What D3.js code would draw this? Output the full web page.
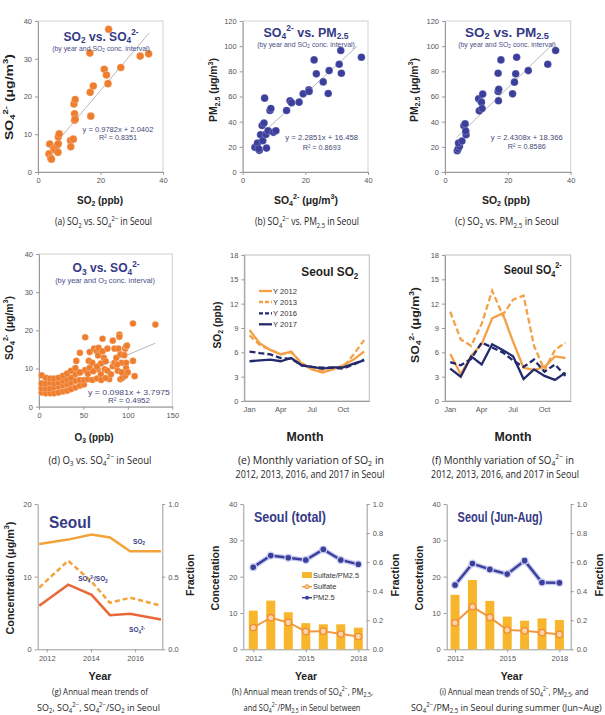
<!DOCTYPE html>
<html><head><meta charset="utf-8">
<script src="https://cdn.jsdelivr.net/npm/d3@7"></script>
<style>
body{margin:0;background:#fff;}
svg{display:block;}
</style></head><body>
<svg id="c" width="605" height="715"></svg>
<script>
// ================= DATA =================
// (a) SO2 (ppb) vs SO4 2- (ug/m3)
const aSO2 = [3.75,3.5,4.1,4.3,5.0,5.4,6.1,6.4,6.5,6.5,6.8,10.4,10.5,11.3,11.5,11.7,11.7,11.9,11.9,16.6,16.7,16.9,17.7,21.2,21.9,22.4,22.6,26.5,32.7,35.4];
const aSO4 = [7.4,4.8,3.7,3.4,6.2,5.9,7.0,5.2,7.5,9.3,10.1,8.3,6.7,8.7,18.0,15.4,13.7,19.2,14.0,31.5,21.1,14.8,22.8,27.2,25.7,23.4,37.8,27.7,30.7,31.3];
// (b) SO4 2- vs PM2.5
const bSO4 = [3.9,4.7,5.3,5.1,5.7,6.2,6.4,6.8,7.0,7.4,7.6,8.1,8.7,9.0,9.8,10.6,14.0,15.1,15.6,18.0,19.3,21.1,21.2,22.8,23.5,25.7,27.3,27.6,30.8,31.3,31.5,37.9];
const bPM  = [19.6,23.0,17.2,18.5,29.6,37.0,24.8,38.9,58.7,29.9,19.0,32.8,48.9,50.5,31.5,32.8,48.9,56.6,55.0,55.5,62.1,65.3,64.0,89.1,78.0,71.6,62.4,80.6,85.6,96.5,78.5,91.2];
// (c) SO2 vs PM2.5
const cSO2 = [3.9,4.2,4.6,4.3,5.4,6.0,6.4,6.7,6.6,10.7,10.9,11.6,11.8,12.0,16.9,16.9,17.1,17.0,17.8,21.5,22.1,22.5,22.8,26.5,32.7,35.2];
const cPM  = [16.9,18.5,20.4,23.0,24.6,36.7,38.3,29.6,32.5,58.2,48.6,55.5,50.5,61.9,78.5,64.0,65.8,56.6,89.1,62.1,71.4,78.0,91.2,80.6,85.6,96.5];
// (d) O3 vs SO4 2-
const dO3 = [3,7.6,12.5,17,22,27,31.6,36,41,46,50.6,
  3,7.6,12.5,17,22,27,31.6,36,41,46,50.6,55,60,65,
  3,7.6,12.5,17,22,27,31.6,36,41,46,52,57,
  3,7.6,12.5,17,22,27,31.6,36,41,46,
  42,46,52,56,57,60,62,65,66.5,67,66,69.6,71.5,71.5,69.6,73,74,75,77,77,79,81,83,83,85,85,87,88.6,89.4,90.5,90.5,91.6,91.6,93,94,97,97,98,99,98,98,105.7,105.7,107.6,131,
  55,61,65,70,75,88,93,100,96];
const dSO4 = [3.7,3.5,3.5,3.5,3.7,4.0,4.2,4.6,5.0,5.5,5.8,
  4.8,4.8,4.8,5.1,5.3,5.6,5.9,6.3,6.8,7.0,7.0,7.2,7.0,7.4,
  6.1,6.1,6.3,6.1,6.3,6.8,7.2,7.6,8.5,8.9,9.6,10.2,
  8.2,7.6,7.4,7.4,7.6,8.1,8.7,9.4,10.1,9.0,
  12.0,14.1,18.2,12.0,14.3,11.5,15.2,14.5,13.4,15.4,9.8,11.3,17.8,14.5,8.5,12.8,9.8,11.9,15.2,9.4,7.2,8.5,17.3,10.6,15.2,11.5,12.8,9.4,15.2,18.9,18.3,13.7,7.2,11.5,7.6,8.1,15.2,15.8,16.0,10.2,11.5,21.8,12.0,8.0,21.5,
  8.6,9.3,10.5,7.0,7.5,11.0,9.0,9.0,13.5];
// (e) monthly SO2 (ppb)
const months = ["Jan","Feb","Mar","Apr","May","Jun","Jul","Aug","Sep","Oct","Nov","Dec"];
const monthTicks = ["Jan","Apr","Jul","Oct"];
const eSO2_2012 = [8.75,7.1,6.3,5.75,6.1,4.6,3.9,3.5,3.9,4.4,5.1,6.1];
const eSO2_2013 = [8.1,6.9,6.3,5.75,6.0,4.7,3.9,3.8,4.0,4.2,5.75,7.5];
const eSO2_2016 = [6.1,5.9,5.75,5.3,5.2,4.4,4.2,4.1,4.1,4.0,4.5,5.1];
const eSO2_2017 = [4.9,5.0,5.1,4.9,5.3,4.4,4.2,4.0,4.15,4.15,4.6,5.0];
// (f) monthly SO4 2- (ug/m3)
const fSO4_2012 = [5.8,3.3,5.6,7.0,10.2,10.8,7.3,4.1,3.8,4.2,5.5,5.3];
const fSO4_2013 = [11.0,7.6,6.8,9.5,13.6,10.6,12.5,13.0,6.8,3.8,6.3,7.2];
const fSO4_2016 = [4.8,4.4,5.2,7.2,6.6,6.0,5.0,4.2,5.1,3.6,4.5,3.1];
const fSO4_2017 = [4.0,3.0,5.5,4.5,7.0,6.3,5.5,2.7,3.9,3.1,2.6,3.5];
const yearNames = ["Y 2012","Y 2013","Y 2016","Y 2017"];
// (g) annual means (x positions)
const gYearPos = [2011.66,2012.97,2014.03,2014.86,2015.77,2017.17];
const gSO2   = [14.5,15.1,15.8,15.4,13.5,13.5];
const gSO4   = [6.0,8.9,7.5,4.7,4.9,4.1];
const gRatio = [0.425,0.61,0.465,0.32,0.355,0.30];
// (h) total
const hYears   = [2012,2013,2014,2015,2016,2017,2018];
const hRatio   = [0.266,0.335,0.255,0.18,0.172,0.172,0.149];
const hSulfate = [6.0,8.7,7.4,4.9,5.0,4.2,3.5];
const hPM      = [22.6,25.8,25.2,24.6,27.5,24.6,23.4];
// (i) Jun-Aug
const iRatio   = [0.375,0.477,0.333,0.225,0.197,0.213,0.202];
const iSulfate = [7.3,11.7,8.8,5.3,5.1,4.6,4.1];
const iPM      = [17.7,23.6,22.0,20.7,24.4,18.4,18.3];

// ================= HELPERS =================
const svg = d3.select("#c");
const FONT = "'Liberation Sans', Arial, sans-serif";
const CAPF = "'Open Sans', 'Noto Sans', sans-serif";
const NAVY = "#363a86", ORANGE = "#ef7d2e", BLUEPT = "#3b3f9b";
const LORANGE = "#f3a047", DNAVY = "#232a6c", GOLD = "#f8b62d";

function rich(t, str, size) {
  const parts = str.split(/(_\{[^}]*\}|\^\{[^}]*\})/g).filter(p => p !== "");
  let off = 0;
  parts.forEach(p => {
    let mode = "n", s = p;
    if (p.startsWith("_{")) { mode = "sub"; s = p.slice(2, -1); }
    else if (p.startsWith("^{")) { mode = "sup"; s = p.slice(2, -1); }
    const target = mode === "sub" ? 0.22 * size : mode === "sup" ? -0.42 * size : 0;
    const ts = t.append("tspan").text(s);
    if (target - off !== 0) ts.attr("dy", target - off);
    if (mode !== "n") ts.attr("font-size", size * 0.68);
    off = target;
  });
}
// (x,y) = visual centre line of the text; o.fit = target width in px
function label(x, y, str, o = {}) {
  const size = o.size || 8;
  const d = 0.35 * size;
  const t = svg.append("text")
    .attr("x", 0).attr("y", 0)
    .attr("font-family", o.family || FONT)
    .attr("font-size", size)
    .attr("font-weight", o.weight || "normal")
    .attr("fill", o.fill || "#222")
    .attr("text-anchor", o.anchor || "middle");
  rich(t, str, size);
  let s = 1;
  if (o.fit) {
    const w = t.node().getComputedTextLength();
    if (w > 0) s = o.fit / w;
  }
  const sc = s !== 1 ? ` scale(${s},1)` : "";
  if (o.rot) t.attr("transform", `translate(${x + d},${y}) rotate(-90)${sc}`);
  else t.attr("transform", `translate(${x},${y + d})${sc}`);
  return t;
}
function axis(gen, tx, ty, fs = 7.5) {
  const g = svg.append("g").attr("transform", `translate(${tx},${ty})`).call(gen);
  g.attr("font-family", FONT).attr("font-size", fs);
  g.selectAll(".domain").attr("stroke", "#9a9a9a");
  g.selectAll(".tick line").attr("stroke", "#9a9a9a");
  g.selectAll(".tick text").attr("fill", "#555");
  return g;
}
function caption(x, y, str, len, anchor, size) {
  return label(x, y, str, { size: size || 10.5, family: CAPF, fill: "#1e1e1e", fit: len, anchor: anchor || "middle" });
}

// ================= SCATTER PANELS =================
function scatter(o) {
  const x = d3.scaleLinear().domain(o.xd).range([o.x0, o.x1]);
  const y = d3.scaleLinear().domain(o.yd).range([o.y1, o.y0]);
  svg.append("rect").attr("x", o.x0).attr("y", o.y0).attr("width", o.x1 - o.x0).attr("height", o.y1 - o.y0)
    .attr("fill", "none").attr("stroke", "#cfcfcf");
  axis(d3.axisLeft(y).tickValues(o.yt).tickSize(3).tickPadding(3).tickSizeOuter(0), o.x0, 0);
  axis(d3.axisBottom(x).tickValues(o.xt).tickSize(3).tickPadding(3).tickSizeOuter(0), 0, o.y1);
  svg.append("line")
    .attr("x1", x(o.tr[0])).attr("y1", y(o.m * o.tr[0] + o.b))
    .attr("x2", x(o.tr[1])).attr("y2", y(o.m * o.tr[1] + o.b))
    .attr("stroke", "#b8b8b8").attr("stroke-width", 1);
  svg.append("g").selectAll("circle").data(d3.zip(o.xs, o.ys)).join("circle")
    .attr("cx", d => x(d[0])).attr("cy", d => y(d[1])).attr("r", o.r || 3.8)
    .attr("fill", o.color).attr("stroke", "#fff").attr("stroke-opacity", 0.35).attr("stroke-width", 0.6);
}

const TB = { size: 13, weight: "bold", fill: NAVY };
const SB = { size: 7, fill: "#4a4f8a" };
const EQ = { size: 8, fill: "#454a78" };
const AX = { size: 11, weight: "bold" };

scatter({ x0: 38, x1: 163, y0: 21, y1: 172, xd: [0, 40], yd: [0, 40], xt: [0, 20, 40], yt: [0, 10, 20, 30, 40],
  xs: aSO2, ys: aSO4, color: ORANGE, m: 0.9782, b: 2.0402, tr: [4, 35.6] });
label(101, 36, "SO_{2} vs. SO_{4}^{2-}", { ...TB, fit: 75 });
label(101, 48.5, "(by year and SO_{2} conc. interval)", { ...SB, fit: 98 });
label(118, 129.5, "y = 0.9782x + 2.0402", { ...EQ, fit: 71 });
label(118, 137.5, "R² = 0.8351", { ...EQ, fit: 38 });
label(9, 97, "SO_{4}^{2-} (μg/m^{3})", { ...AX, rot: true, fit: 86 });
label(100, 200, "SO_{2} (ppb)", { ...AX, fit: 46 });
caption(103.5, 221.7, "(a) SO_{2} vs. SO_{4}^{2−} in Seoul", 97);

scatter({ x0: 242.7, x1: 368, y0: 21, y1: 172, xd: [0, 40], yd: [0, 120], xt: [0, 20, 40], yt: [0, 20, 40, 60, 80, 100, 120],
  xs: bSO4, ys: bPM, color: BLUEPT, m: 2.2851, b: 16.458, tr: [7.5, 36.5] });
label(306, 32, "SO_{4}^{2-} vs. PM_{2.5}", { ...TB, fit: 85 });
label(306, 44.3, "(by year and SO_{2} conc. interval)", { ...SB, fit: 98 });
label(321.7, 137.3, "y = 2.2851x + 16.458", { ...EQ, fit: 73 });
label(321.7, 146.7, "R² = 0.8693", { ...EQ, fit: 38 });
label(213.5, 90, "PM_{2.5} (μg/m^{3})", { ...AX, rot: true, fit: 64 });
label(306, 200, "SO_{4}^{2-} (μg/m^{3})", { ...AX, fit: 64 });
caption(307, 221.7, "(b) SO_{4}^{2−} vs. PM_{2.5} in Seoul", 104);

scatter({ x0: 445, x1: 570.7, y0: 21, y1: 172, xd: [0, 40], yd: [0, 120], xt: [0, 20, 40], yt: [0, 20, 40, 60, 80, 100, 120],
  xs: cSO2, ys: cPM, color: BLUEPT, m: 2.4308, b: 18.366, tr: [3.7, 34.5] });
label(507, 32, "SO_{2} vs. PM_{2.5}", { ...TB, fit: 84 });
label(507, 44.3, "(by year and SO_{2} conc. interval)", { ...SB, fit: 98 });
label(526.7, 136.7, "y = 2.4308x + 18.366", { ...EQ, fit: 72 });
label(526.7, 145.7, "R² = 0.8586", { ...EQ, fit: 38 });
label(414, 90, "PM_{2.5} (μg/m^{3})", { ...AX, rot: true, fit: 64 });
label(506, 200, "SO_{2} (ppb)", { ...AX, fit: 48 });
caption(507, 221.7, "(c) SO_{2} vs. PM_{2.5} in Seoul", 104);

scatter({ x0: 39, x1: 172.3, y0: 254, y1: 406.7, xd: [0, 150], yd: [0, 40], xt: [0, 50, 100, 150], yt: [0, 10, 20, 30, 40],
  xs: dO3, ys: dSO4, color: ORANGE, m: 0.0981, b: 3.7975, tr: [0, 131], r: 3.3 });
label(106, 267.8, "O_{3} vs. SO_{4}^{2-}", { ...TB, fit: 67 });
label(105, 280.5, "(by year and O_{3} conc. interval)", { ...SB, fit: 100 });
label(129, 392.3, "y = 0.0981x + 3.7975", { ...EQ, fit: 82 });
label(129, 400.3, "R² = 0.4952", { ...EQ, fit: 42 });
label(9, 328, "SO_{4}^{2-} (μg/m^{3})", { ...AX, rot: true, fit: 64 });
label(94, 436.7, "O_{3} (ppb)", { ...AX, fit: 39 });
caption(100, 460, "(d) O_{3} vs. SO_{4}^{2−} in Seoul", 103);

// ================= MONTHLY PANELS =================
function monthly(o) {
  const x = d3.scaleBand().domain(months).range([o.x0, o.x1]);
  const cx = m => x(m) + x.bandwidth() / 2;
  const y = d3.scaleLinear().domain([0, 18]).range([o.y1, o.y0]);
  svg.append("rect").attr("x", o.x0).attr("y", o.y0).attr("width", o.x1 - o.x0).attr("height", o.y1 - o.y0)
    .attr("fill", "none").attr("stroke", "#bdbdbd");
  axis(d3.axisLeft(y).tickValues([0, 3, 6, 9, 12, 15, 18]).tickSize(3).tickPadding(3).tickSizeOuter(0), o.x0, 0);
  axis(d3.axisBottom(x).tickValues(monthTicks).tickSize(0).tickPadding(6), 0, o.y1);
  const line = d3.line().x((d, i) => cx(months[i])).y(d => y(d));
  const styles = [[LORANGE, null], [LORANGE, "6,3"], [DNAVY, "6,3"], [DNAVY, null]];
  o.series.forEach((s, k) => {
    svg.append("path").attr("d", line(s)).attr("fill", "none")
      .attr("stroke", styles[k][0]).attr("stroke-width", 2.3)
      .attr("stroke-dasharray", styles[k][1]);
  });
  return styles;
}
const eStyles = monthly({ x0: 244.3, x1: 369.3, y0: 255, y1: 401, series: [eSO2_2012, eSO2_2013, eSO2_2016, eSO2_2017] });
yearNames.forEach((n, k) => {
  const yy = [291, 302, 313.3, 324.3][k];
  svg.append("line").attr("x1", 259).attr("x2", 272).attr("y1", yy).attr("y2", yy)
    .attr("stroke", eStyles[k][0]).attr("stroke-width", 2.3).attr("stroke-dasharray", eStyles[k][1] ? "4,2" : null);
  label(273, yy, n, { size: 8, anchor: "start", fill: "#333", fit: 24 });
});
label(358.3, 271.7, "Seoul SO_{2}", { size: 13, weight: "bold", anchor: "end", fill: "#1e1e1e", fit: 57 });
label(216.7, 325, "SO_{2} (ppb)", { ...AX, rot: true, fit: 47 });
label(305, 436.7, "Month", { size: 13, weight: "bold", fit: 37 });
caption(311, 460, "(e) Monthly variation of SO_{2} in", 146);
caption(310, 474.3, "2012, 2013, 2016, and 2017 in Seoul", 149);

monthly({ x0: 445, x1: 570.7, y0: 255, y1: 401, series: [fSO4_2012, fSO4_2013, fSO4_2016, fSO4_2017] });
label(561.7, 269.3, "Seoul SO_{4}^{2-}", { size: 13, weight: "bold", anchor: "end", fill: "#1e1e1e", fit: 58 });
label(415, 325, "SO_{4}^{2-} (μg/m^{3})", { ...AX, rot: true, fit: 76 });
label(513, 436.7, "Month", { size: 13, weight: "bold", fit: 37 });
caption(503, 460, "(f) Monthly variation of SO_{4}^{2−} in", 142);
caption(505, 474.3, "2012, 2013, 2016, and 2017 in Seoul", 148);

// ================= ANNUAL PANEL (g) =================
(function () {
  const x0 = 37.7, x1 = 162.3, y0 = 504, y1 = 649.3;
  const x = d3.scaleLinear().domain([2011.59, 2017.23]).range([x0, x1]);
  const yL = d3.scaleLinear().domain([0, 20]).range([y1, y0]);
  const yR = d3.scaleLinear().domain([0, 1]).range([y1, y0]);
  axis(d3.axisLeft(yL).tickValues([0, 10, 20]).tickSize(3).tickPadding(3).tickSizeOuter(0), x0, 0);
  axis(d3.axisRight(yR).tickValues([0, 0.5, 1]).tickFormat(d3.format(".1f")).tickSize(3).tickPadding(3).tickSizeOuter(0), x1, 0);
  axis(d3.axisBottom(x).tickValues([2012, 2014, 2016]).tickFormat(d3.format("d")).tickSize(3).tickPadding(3).tickSizeOuter(0), 0, y1);
  const lineL = d3.line().x((d, i) => x(gYearPos[i])).y(d => yL(d));
  const lineR = d3.line().x((d, i) => x(gYearPos[i])).y(d => yR(d));
  svg.append("path").attr("d", lineL(gSO2)).attr("fill", "none").attr("stroke", "#f2a33a").attr("stroke-width", 2.5);
  svg.append("path").attr("d", lineR(gRatio)).attr("fill", "none").attr("stroke", "#f2a33a").attr("stroke-width", 2.5).attr("stroke-dasharray", "5,3");
  svg.append("path").attr("d", lineL(gSO4)).attr("fill", "none").attr("stroke", "#e8683a").attr("stroke-width", 2.5);
})();
label(49, 521.7, "Seoul", { size: 17, weight: "bold", anchor: "start", fill: NAVY, fit: 42 });
label(139, 541.7, "SO_{2}", { size: 6.5, weight: "bold", fill: NAVY });
label(93, 579, "SO_{4}^{2-}/SO_{2}", { size: 6.5, weight: "bold", fill: NAVY });
label(137, 630, "SO_{4}^{2-}", { size: 6.5, weight: "bold", fill: NAVY });
label(10, 578, "Concentration (μg/m^{3})", { ...AX, rot: true, fit: 113 });
label(190, 575, "Fraction", { ...AX, rot: true, fit: 42 });
label(100, 675.7, "Year", { ...AX, fit: 23 });
caption(100, 692, "(g) Annual mean trends of", 96, null, 9.5);
caption(98.5, 707.5, "SO_{2}, SO_{4}^{2−}, SO_{4}^{2−}/SO_{2} in Seoul", 123, null, 9.5);

// ================= ANNUAL PANELS (h, i) =================
function annual2(o) {
  const y0 = 504, y1 = 649.3;
  const x = d3.scaleLinear().domain(o.xd).range([o.x0, o.x1]);
  const yL = d3.scaleLinear().domain([0, 40]).range([y1, y0]);
  const yR = d3.scaleLinear().domain([0, 1]).range([y1, y0]);
  axis(d3.axisLeft(yL).tickValues([0, 10, 20, 30, 40]).tickSize(3).tickPadding(3).tickSizeOuter(0), o.x0, 0);
  axis(d3.axisRight(yR).tickValues([0, 0.2, 0.4, 0.6, 0.8, 1.0]).tickFormat(d3.format(".1f")).tickSize(3).tickPadding(3).tickSizeOuter(0), o.x1, 0);
  axis(d3.axisBottom(x).tickValues([2012, 2015, 2018]).tickFormat(d3.format("d")).tickSize(3).tickPadding(3).tickSizeOuter(0), 0, y1);
  svg.append("g").selectAll("rect").data(d3.zip(hYears, o.ratio)).join("rect")
    .attr("x", d => x(d[0]) - 4.5).attr("width", 9)
    .attr("y", d => yR(d[1])).attr("height", d => yR(0) - yR(d[1]))
    .attr("fill", GOLD);
  const line = d3.line().x(d => x(d[0])).y(d => yL(d[1]));
  const sul = d3.zip(hYears, o.sulfate), pm = d3.zip(hYears, o.pm);
  svg.append("path").attr("d", line(sul)).attr("fill", "none").attr("stroke", "#f19a3e").attr("stroke-width", 2);
  svg.append("g").selectAll("circle").data(sul).join("circle")
    .attr("cx", d => x(d[0])).attr("cy", d => yL(d[1])).attr("r", 3.2)
    .attr("fill", "#fbd3a6").attr("stroke", "#ef8c34").attr("stroke-width", 1.3);
  svg.append("path").attr("d", line(pm)).attr("fill", "none").attr("stroke", "#c9cbee").attr("stroke-width", 5);
  svg.append("path").attr("d", line(pm)).attr("fill", "none").attr("stroke", BLUEPT).attr("stroke-width", 2.4);
  svg.append("g").selectAll("circle").data(pm).join("circle")
    .attr("cx", d => x(d[0])).attr("cy", d => yL(d[1])).attr("r", 3.4)
    .attr("fill", BLUEPT).attr("stroke", "#cdd0f0").attr("stroke-width", 1.2);
}
annual2({ x0: 243.3, x1: 366.7, xd: [2011.43, 2018.48], ratio: hRatio, sulfate: hSulfate, pm: hPM });
label(290, 516.7, "Seoul (total)", { size: 14, weight: "bold", fill: NAVY, fit: 72 });
// legend (h)
svg.append("rect").attr("x", 302).attr("y", 572).attr("width", 10).attr("height", 6).attr("fill", GOLD);
label(313, 575, "Sulfate/PM2.5", { size: 7.5, anchor: "start", fill: "#333", fit: 46 });
svg.append("line").attr("x1", 302).attr("x2", 312).attr("y1", 586.7).attr("y2", 586.7).attr("stroke", "#f19a3e").attr("stroke-width", 1.5);
svg.append("circle").attr("cx", 307).attr("cy", 586.7).attr("r", 2).attr("fill", "#fbd3a6").attr("stroke", "#ef8c34");
label(313, 586.7, "Sulfate", { size: 7.5, anchor: "start", fill: "#333" });
svg.append("line").attr("x1", 302).attr("x2", 312).attr("y1", 597.7).attr("y2", 597.7).attr("stroke", BLUEPT).attr("stroke-width", 1.5);
svg.append("circle").attr("cx", 307).attr("cy", 597.7).attr("r", 2).attr("fill", BLUEPT);
label(313, 597.7, "PM2.5", { size: 7.5, anchor: "start", fill: "#333" });
label(215, 578, "Concetration", { ...AX, rot: true, fit: 65 });
label(395, 575, "Fraction", { ...AX, rot: true, fit: 43 });
label(306, 675.7, "Year", { ...AX, fit: 22 });
caption(302.5, 692, "(h) Annual mean trends of SO_{4}^{2−}, PM_{2.5},", 141, null, 9.5);
caption(302, 707.5, "and SO_{4}^{2−}/PM_{2.5} in Seoul between", 117, null, 9.5);

annual2({ x0: 446.7, x1: 570.7, xd: [2011.52, 2018.65], ratio: iRatio, sulfate: iSulfate, pm: iPM });
label(500, 516.7, "Seoul (Jun-Aug)", { size: 14, weight: "bold", fill: NAVY, fit: 85 });
label(419.3, 578, "Concetration", { ...AX, rot: true, fit: 65 });
label(599, 575, "Fraction", { ...AX, rot: true, fit: 43 });
label(511.7, 675.7, "Year", { ...AX, fit: 22 });
caption(514, 692, "(i) Annual mean trends of SO_{4}^{2−}, PM_{2.5}, and", 149, null, 9.5);
caption(411, 707.5, "SO_{4}^{2−}/PM_{2.5} in Seoul during summer (Jun~Aug)", 191, "start", 9.5);
</script>
</body></html>
